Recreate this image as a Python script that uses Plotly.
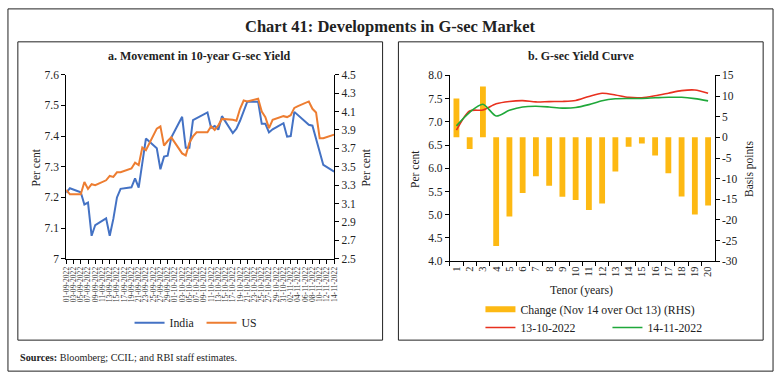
import plotly.graph_objects as go

W, H = 780, 381

# ---------------- Data: panel a ----------------
dates = [
    "2022-09-01", "2022-09-02", "2022-09-05", "2022-09-06", "2022-09-07", "2022-09-08", "2022-09-09",
    "2022-09-12", "2022-09-13", "2022-09-14", "2022-09-15", "2022-09-16",
    "2022-09-19", "2022-09-20", "2022-09-21", "2022-09-22", "2022-09-23",
    "2022-09-26", "2022-09-27", "2022-09-28", "2022-09-29", "2022-09-30",
    "2022-10-03", "2022-10-04", "2022-10-05", "2022-10-06", "2022-10-07",
    "2022-10-10", "2022-10-11", "2022-10-12", "2022-10-13", "2022-10-14",
    "2022-10-17", "2022-10-18", "2022-10-19", "2022-10-20", "2022-10-21",
    "2022-10-24", "2022-10-25", "2022-10-26", "2022-10-27", "2022-10-28",
    "2022-10-31", "2022-11-01", "2022-11-02", "2022-11-03", "2022-11-04",
    "2022-11-07", "2022-11-08", "2022-11-09", "2022-11-10", "2022-11-11",
    "2022-11-14",
]
india = [
    7.215, 7.230, 7.217, 7.177, 7.183, 7.075, 7.110,
    7.132, 7.075, 7.130, 7.200, 7.228,
    7.233, 7.262, 7.232, 7.310, 7.392,
    7.360, 7.292, 7.333, 7.336, 7.395,
    7.463, 7.362, 7.362, 7.452, 7.458,
    7.477, 7.427, 7.433, 7.421, 7.465,
    7.410, 7.424, 7.450, 7.480, 7.512,
    7.512, 7.440, 7.440, 7.412, 7.422,
    7.442, 7.398, 7.400, 7.479, 7.468,
    7.437, 7.434, 7.390, 7.350, 7.306,
    7.284,
]
us = [
    3.25, 3.20, 3.20, 3.335, 3.26, 3.31, 3.30,
    3.353, 3.40, 3.39, 3.44, 3.44,
    3.482, 3.545, 3.518, 3.71, 3.68,
    3.915, 3.94, 3.73, 3.78, 3.82,
    3.645, 3.623, 3.76, 3.83, 3.875,
    3.875, 3.94, 3.90, 3.95, 4.02,
    4.01, 4.00, 4.13, 4.22, 4.21,
    4.24, 4.10, 4.04, 3.92, 4.01,
    4.05, 4.04, 4.06, 4.14, 4.16,
    4.21, 4.13, 4.09, 3.81, 3.81,
    3.85,
]

# ---------------- Data: panel b ----------------
tenor = [str(i) for i in range(1, 21)]
change_bp = [9.4, -2.8, 12.3, -26.3, -19.2, -13.5, -9.4, -11.7, -14.4, -15.2,
             -17.6, -16.0, -8.3, -2.3, -1.5, -4.4, -8.7, -14.3, -18.7, -16.5]
yield_oct13 = [6.82, 7.235, 7.256, 7.39, 7.44, 7.457, 7.43, 7.437, 7.44, 7.46,
               7.548, 7.617, 7.58, 7.527, 7.52, 7.562, 7.617, 7.673, 7.687, 7.617]
yield_nov14 = [6.914, 7.207, 7.379, 7.127, 7.248, 7.322, 7.336, 7.32, 7.296, 7.308,
               7.372, 7.457, 7.497, 7.504, 7.505, 7.518, 7.53, 7.53, 7.50, 7.452]
bp_ticks = [-30, -25, -20, -15, -10, -5, 0, 5, 10, 15]
bp_ticklabels = ["-30", "-25", "-20", "-15", "-10", "-5", "0", "5", "10", "15"]

BLUE, ORANGE = "#4472C4", "#ED7D31"
GOLD, RED, GREEN = "#FDB913", "#E8301E", "#1FA83A"
FONT = "Liberation Serif"


def px(x):
    return x / W


def py(y):
    return 1 - y / H


fig = go.Figure()

fig.add_trace(go.Scatter(x=dates, y=india, name="India", mode="lines",
                         line=dict(color=BLUE, width=2), xaxis="x", yaxis="y",
                         legend="legend"))
fig.add_trace(go.Scatter(x=dates, y=us, name="US", mode="lines",
                         line=dict(color=ORANGE, width=2), xaxis="x", yaxis="y2",
                         legend="legend"))

fig.add_trace(go.Bar(x=tenor, y=change_bp, name="Change (Nov 14 over Oct 13) (RHS)",
                     marker=dict(color=GOLD, line=dict(width=0)), width=0.44,
                     xaxis="x2", yaxis="y3", showlegend=False))
# legend swatch for the bars (wide rectangle like the reference)
fig.add_trace(go.Scatter(x=[None], y=[None], name="Change (Nov 14 over Oct 13) (RHS)",
                         mode="lines", line=dict(color=GOLD, width=6),
                         xaxis="x2", yaxis="y3", legend="legend2"))
fig.add_trace(go.Scatter(x=tenor, y=yield_oct13, name="13-10-2022", mode="lines",
                         line=dict(color=RED, width=1.6, shape="spline", smoothing=0.8),
                         xaxis="x2", yaxis="y4", legend="legend3"))
fig.add_trace(go.Scatter(x=tenor, y=yield_nov14, name="14-11-2022", mode="lines",
                         line=dict(color=GREEN, width=1.6, shape="spline", smoothing=0.8),
                         xaxis="x2", yaxis="y4", legend="legend3"))

axis_common = dict(showgrid=False, zeroline=False, showline=True, linecolor="black",
                   linewidth=1, ticks="outside", ticklen=4, tickcolor="black",
                   tickfont=dict(family=FONT, size=11.5, color="#222"))

LEGFONT = dict(family=FONT, size=11.8, color="#222")

fig.update_layout(
    width=W, height=H, autosize=False,
    margin=dict(l=0, r=0, t=0, b=0),
    paper_bgcolor="white", plot_bgcolor="white",
    font=dict(family=FONT, color="#222"),
    xaxis=dict(axis_common, type="date", domain=[px(62), px(333)], anchor="y",
               range=["2022-09-01", "2022-11-14"], tick0="2022-09-01",
               dtick=2 * 86400000, tickformat="%d-%m-%Y", tickangle=-90,
               tickfont=dict(family=FONT, size=7.6, color="#333"), ticklen=4),
    yaxis=dict(axis_common, domain=[py(261), py(71)], anchor="x",
               range=[7, 7.6], dtick=0.1, tick0=7),
    yaxis2=dict(axis_common, overlaying="y", side="right", anchor="x",
                range=[2.5, 4.5], dtick=0.2, tick0=2.5),
    xaxis2=dict(axis_common, type="category", domain=[px(450), px(718)], anchor="y3",
                range=[-0.5, 19.5], tickson="boundaries", tickangle=-90,
                tickfont=dict(family=FONT, size=10.5, color="#222")),
    yaxis3=dict(axis_common, domain=[py(263.5), py(71.7)], anchor="x2", side="right",
                range=[-30, 15], tickmode="array", tickvals=bp_ticks, ticktext=bp_ticklabels),
    yaxis4=dict(axis_common, overlaying="y3", side="left", anchor="x2",
                range=[4, 8], dtick=0.5, tick0=4, tickformat=".1f"),
    bargap=0.5,
    legend=dict(orientation="h", x=px(126), y=py(327), xanchor="left", yanchor="middle",
                font=LEGFONT, entrywidth=27, entrywidthmode="pixels",
                bgcolor="rgba(0,0,0,0)"),
    legend2=dict(orientation="h", x=px(481), y=py(313), xanchor="left", yanchor="middle",
                 font=LEGFONT, bgcolor="rgba(0,0,0,0)"),
    legend3=dict(orientation="h", x=px(481), y=py(332), xanchor="left", yanchor="middle",
                 font=LEGFONT, entrywidth=82, entrywidthmode="pixels",
                 bgcolor="rgba(0,0,0,0)"),
)

# Borders
shapes = [
    dict(x0=px(3), x1=px(777), y0=py(377), y1=py(3)),
    dict(x0=px(13), x1=px(382), y0=py(345), y1=py(37)),
    dict(x0=px(398), x1=px(767), y0=py(345), y1=py(37)),
]
for s in shapes:
    fig.add_shape(type="rect", xref="paper", yref="paper", line=dict(color="#222", width=1),
                  fillcolor="rgba(0,0,0,0)", layer="below", **s)

ann = [
    dict(text="<b>Chart 41: Developments in G-sec Market</b>", x=px(390), y=py(21), size=16.5),
    dict(text="<b>a. Movement in 10-year G-sec Yield</b>", x=px(197), y=py(52), size=12),
    dict(text="<b>b. G-sec Yield Curve</b>", x=px(583), y=py(52), size=12),
    dict(text="Per cent", x=px(31), y=py(167), size=11.5, angle=-90),
    dict(text="Per cent", x=px(365), y=py(167), size=11.5, angle=-90),
    dict(text="Per cent", x=px(414), y=py(168), size=11.5, angle=-90),
    dict(text="Basis points", x=px(753), y=py(168), size=11.5, angle=-90),
    dict(text="Tenor (years)", x=px(583), y=py(293), size=11.8),
]
for a in ann:
    fig.add_annotation(text=a["text"], x=a["x"], y=a["y"], xref="paper", yref="paper",
                       xanchor="center", yanchor="middle", showarrow=False,
                       textangle=a.get("angle", 0),
                       font=dict(family=FONT, size=a["size"], color="#222"))
fig.add_annotation(text="<b>Sources:</b> Bloomberg; CCIL; and RBI staff estimates.",
                   x=px(13), y=py(363), xref="paper", yref="paper", xanchor="left",
                   yanchor="middle", showarrow=False,
                   font=dict(family=FONT, size=10.2, color="#222"))

fig.write_html("out.html", config={"displayModeBar": False})

# remove the default page margin so the 780x381 figure fills the window exactly
with open("out.html", "r", encoding="utf-8") as f:
    html = f.read()
html = html.replace("<head>", "<head><style>html,body{margin:0;padding:0;overflow:hidden;}</style>", 1)
with open("out.html", "w", encoding="utf-8") as f:
    f.write(html)
